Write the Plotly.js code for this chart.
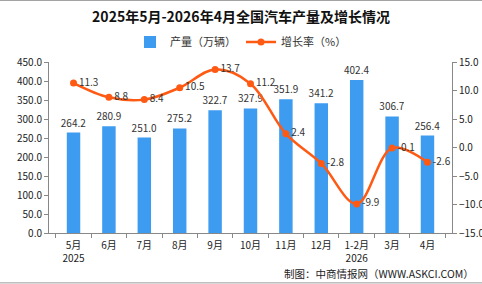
<!DOCTYPE html>
<html>
<head>
<meta charset="utf-8">
<script src="https://cdn.plot.ly/plotly-3.0.1.min.js"></script>
<style>html,body{margin:0;padding:0;background:#fff;}#chart{width:482px;height:284px;}</style>
</head>
<body>
<div id="chart"></div>
<script>
var categories = ["5月<br>2025","6月","7月","8月","9月","10月","11月","12月","1-2月<br>2026","3月","4月"];
var production = [264.2, 280.9, 251.0, 275.2, 322.7, 327.9, 351.9, 341.2, 402.4, 306.7, 256.4];
var growth = [11.3, 8.8, 8.4, 10.5, 13.7, 11.2, 2.4, -2.8, -9.9, -0.1, -2.6];
var leftTicks = [0, 50, 100, 150, 200, 250, 300, 350, 400, 450];
var rightTicks = [-15, -10, -5, 0, 5, 10, 15];

var F = '"Noto Sans CJK SC", "DejaVu Sans", sans-serif';
var plotTop = 62, plotBot = 232.7, plotH = plotBot - plotTop;
function py(pix){ return (plotBot - pix) / plotH; }

var traces = [
  {
    type: 'bar', name: '产量（万辆）', x: categories, y: production,
    marker: {color: '#3D9BF0'}, width: 0.38,
    text: production.map(function(v){return v.toFixed(1);}),
    textposition: 'outside', constraintext: 'none', textfont: {family: F, size: 10, color: '#333'},
    cliponaxis: false, hoverinfo: 'none'
  },
  {
    type: 'scatter', mode: 'lines+markers+text', name: '增长率（%）', x: categories, y: growth,
    yaxis: 'y2', line: {color: '#FF5A14', width: 2.5, shape: 'spline', smoothing: 1},
    marker: {color: '#FF5A14', size: 7},
    text: growth.map(function(v){return v.toFixed(1);}),
    textposition: 'middle right', textfont: {family: F, size: 10, color: '#333'},
    cliponaxis: false, hoverinfo: 'none'
  }
];

var layout = {
  width: 482, height: 284,
  margin: {l: 49, r: 30, t: plotTop, b: 284 - plotBot},
  paper_bgcolor: '#fff', plot_bgcolor: '#fff',
  font: {family: F, size: 10, color: '#333'},
  title: {text: '<b>2025年5月-2026年4月全国汽车产量及增长情况</b>', font: {family: F, size: 14, color: '#111'},
          x: 0.5, xref: 'container', y: 1 - 17/284, yref: 'container', yanchor: 'middle'},
  showlegend: true,
  legend: {orientation: 'h', x: 0.5, xref: 'container', xanchor: 'center', y: 1 - 42/284, yref: 'container', yanchor: 'middle',
           font: {family: F, size: 11, color: '#333'}, itemwidth: 30},
  bargap: 0.62,
  xaxis: {type: 'category', showline: true, linecolor: '#888', linewidth: 1, ticks: 'outside', tickson: 'boundaries',
          ticklen: 4, tickcolor: '#888', ticklabelstandoff: 3, tickfont: {family: F, size: 10, color: '#222'}, showgrid: false, fixedrange: true},
  yaxis: {range: [0, 450], tickvals: leftTicks, tickformat: '.1f', showline: true, linecolor: '#888', ticks: 'outside',
          ticklen: 4, tickcolor: '#888', showgrid: false, zeroline: false, tickfont: {family: F, size: 10, color: '#222'}},
  yaxis2: {range: [-15, 15], tickvals: rightTicks, tickformat: '.1f', overlaying: 'y', side: 'right', showline: true,
           linecolor: '#888', ticks: 'outside', ticklen: 4, tickcolor: '#888', showgrid: false, zeroline: false,
           tickfont: {family: F, size: 10, color: '#222'}},
  annotations: [{text: '制图：中商情报网（WWW.ASKCI.COM）', xref: 'paper', yref: 'paper', x: (476-49)/403, y: py(273),
                 xanchor: 'right', yanchor: 'middle', showarrow: false, font: {family: F, size: 10.5, color: '#222'}}],
  shapes: [
    {type: 'line', xref: 'paper', yref: 'paper', x0: -49/403, x1: (482-49)/403, y0: py(0.5), y1: py(0.5), line: {color: '#999', width: 1}},
    {type: 'line', xref: 'paper', yref: 'paper', x0: -49/403, x1: (482-49)/403, y0: py(282.5), y1: py(282.5), line: {color: '#999', width: 1}}
  ]
};

Plotly.newPlot('chart', traces, layout, {displayModeBar: false, staticPlot: true});
</script>
</body>
</html>
